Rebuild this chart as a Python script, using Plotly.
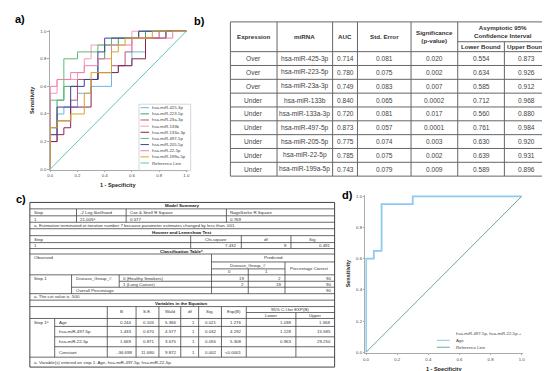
import plotly.graph_objects as go

W, H = 550, 371


def X(px):
    return px / W


def Y(py):
    return 1 - py / H


# ---------------- Panel a data (ROC curves) ----------------
mirna_a = ["hsa-miR-425-3p", "hsa-miR-223-5p", "hsa-miR-23a-3p", "hsa-miR-133b",
           "hsa-miR-133a-3p", "hsa-miR-497-5p", "hsa-miR-205-5p", "hsa-miR-22-5p",
           "hsa-miR-199a-5p"]
colors_a = ["#6cb4e4", "#3fa65f", "#c4507c", "#f39bb7", "#862450", "#5dbb77",
            "#3a3f9e", "#f07fa6", "#d4a52a"]
ref_color_a = "#5ec6bd"

fpr_425 = [0, 0, 0.05, 0.05, 0.1, 0.1, 0.2, 0.2, 0.3, 0.3, 0.45, 0.45, 0.5, 0.5, 0.6, 0.6, 0.7, 0.7, 0.85, 0.85, 1]
tpr_425 = [0, 0.25, 0.25, 0.4, 0.4, 0.45, 0.45, 0.55, 0.55, 0.6, 0.6, 0.7, 0.7, 0.75, 0.75, 0.85, 0.85, 0.95, 0.95, 1, 1]
fpr_223 = [0, 0, 0.05, 0.05, 0.1, 0.1, 0.2, 0.2, 0.35, 0.35, 0.4, 0.4, 0.5, 0.5, 0.7, 0.7, 1]
tpr_223 = [0, 0.3, 0.3, 0.5, 0.5, 0.6, 0.6, 0.65, 0.65, 0.8, 0.8, 0.9, 0.9, 0.95, 0.95, 1, 1]
fpr_23a = [0, 0, 0.05, 0.05, 0.15, 0.15, 0.2, 0.2, 0.35, 0.35, 0.45, 0.45, 0.55, 0.55, 0.6, 0.6, 0.8, 0.8, 1]
tpr_23a = [0, 0.2, 0.2, 0.35, 0.35, 0.5, 0.5, 0.65, 0.65, 0.7, 0.7, 0.75, 0.75, 0.85, 0.85, 0.95, 0.95, 1, 1]
fpr_133b = [0, 0, 0.05, 0.05, 0.2, 0.2, 0.25, 0.25, 0.3, 0.3, 0.45, 0.45, 0.6, 0.6, 1]
tpr_133b = [0, 0.55, 0.55, 0.65, 0.65, 0.7, 0.7, 0.8, 0.8, 0.9, 0.9, 0.95, 0.95, 1, 1]
fpr_133a = [0, 0, 0.05, 0.05, 0.1, 0.1, 0.15, 0.15, 0.3, 0.3, 0.35, 0.35, 0.5, 0.5, 0.6, 0.6, 0.7, 0.7, 0.85, 0.85, 1]
tpr_133a = [0, 0.2, 0.2, 0.25, 0.25, 0.3, 0.3, 0.45, 0.45, 0.65, 0.65, 0.7, 0.7, 0.75, 0.75, 0.8, 0.8, 0.95, 0.95, 1, 1]
fpr_497 = [0, 0, 0.1, 0.1, 0.2, 0.2, 0.35, 0.35, 0.45, 0.45, 0.65, 0.65, 1]
tpr_497 = [0, 0.5, 0.5, 0.8, 0.8, 0.85, 0.85, 0.9, 0.9, 0.95, 0.95, 1, 1]
fpr_205 = [0, 0, 0.05, 0.05, 0.15, 0.15, 0.25, 0.25, 0.35, 0.35, 0.4, 0.4, 0.65, 0.65, 1]
tpr_205 = [0, 0.25, 0.25, 0.45, 0.45, 0.6, 0.6, 0.65, 0.65, 0.85, 0.85, 0.95, 0.95, 1, 1]
fpr_22 = [0, 0, 0.05, 0.05, 0.15, 0.15, 0.25, 0.25, 0.35, 0.35, 0.45, 0.45, 0.6, 0.6, 0.9, 0.9, 1]
tpr_22 = [0, 0.6, 0.6, 0.65, 0.65, 0.7, 0.7, 0.75, 0.75, 0.8, 0.8, 0.9, 0.9, 0.95, 0.95, 1, 1]
fpr_199a = [0, 0, 0.05, 0.05, 0.15, 0.15, 0.25, 0.25, 0.3, 0.3, 0.45, 0.45, 0.5, 0.5, 0.55, 0.55, 0.75, 0.75, 1]
tpr_199a = [0, 0.3, 0.3, 0.35, 0.35, 0.4, 0.4, 0.55, 0.55, 0.7, 0.7, 0.85, 0.85, 0.9, 0.9, 0.95, 0.95, 1, 1]

curves_fpr = [fpr_425, fpr_223, fpr_23a, fpr_133b, fpr_133a, fpr_497, fpr_205, fpr_22, fpr_199a]
curves_tpr = [tpr_425, tpr_223, tpr_23a, tpr_133b, tpr_133a, tpr_497, tpr_205, tpr_22, tpr_199a]

ref_line = [0, 1]
tick_vals = [0, 0.2, 0.4, 0.6, 0.8, 1.0]
tick_text = ["0.0", "0.2", "0.4", "0.6", "0.8", "1.0"]

# ---------------- Panel b data (table) ----------------
b_expression = ["Over", "Over", "Over", "Under", "Under", "Under", "Under", "Under", "Under"]
b_mirna = ["hsa-miR-425-3p", "hsa-miR-223-5p", "hsa-miR-23a-3p", "hsa-miR-133b",
           "hsa-miR-133a-3p", "hsa-miR-497-5p", "hsa-miR-205-5p", "hsa-miR-22-5p",
           "hsa-miR-199a-5p"]
b_auc = ["0.714", "0.780", "0.749", "0.840", "0.720", "0.873", "0.775", "0.785", "0.743"]
b_se = ["0.081", "0.075", "0.083", "0.065", "0.081", "0.057", "0.074", "0.075", "0.079"]
b_sig = ["0.020", "0.002", "0.007", "0.0002", "0.017", "0.0001", "0.003", "0.002", "0.009"]
b_lower = ["0.554", "0.634", "0.585", "0.712", "0.560", "0.761", "0.630", "0.639", "0.589"]
b_upper = ["0.873", "0.926", "0.912", "0.968", "0.880", "0.984", "0.920", "0.931", "0.896"]

# ---------------- Panel c data (logistic regression output) ----------------
ms_header = ["Step", "-2 Log likelihood", "Cox & Snell R Square", "Nagelkerke R Square"]
ms_values = ["1", "21.005ᵃ", "0.577", "0.769"]
hl_header = ["Step", "Chi-square", "df", "Sig."]
hl_values = ["1", "7.432", "8", "0.491"]
cls_counts_0 = ["19", "2"]
cls_counts_1 = ["2", "18"]
cls_pct = ["90", "90", "90"]
var_names = ["Age", "hsa-miR-497-5p", "hsa-miR-22-5p", "Constant"]
var_B = ["0.244", "1.433", "1.669", "-36.698"]
var_SE = ["0.105", "0.670", "0.871", "11.680"]
var_Wald = ["5.366", "4.577", "3.675", "9.872"]
var_df = ["1", "1", "1", "1"]
var_Sig = ["0.021", "0.032", "0.055", "0.002"]
var_ExpB = ["1.276", "4.192", "5.308", "<0.0001"]
var_Lower = ["1.038", "1.128", "0.963", ""]
var_Upper = ["1.568", "15.585", "29.250", ""]

# ---------------- Panel d data ----------------
fpr_d = [0, 0, 0.05, 0.05, 0.1, 0.1, 0.3, 0.3, 1]
tpr_d = [0, 0.6, 0.6, 0.65, 0.65, 0.95, 0.95, 1, 1]

FONT = "Liberation Sans, Arial, sans-serif"
TXT = "#333333"

fig = go.Figure()

# Panel a traces
for name, c, fx, ty in zip(mirna_a, colors_a, curves_fpr, curves_tpr):
    fig.add_trace(go.Scatter(x=fx, y=ty, mode="lines", name=name,
                             line=dict(color=c, width=1), xaxis="x", yaxis="y",
                             showlegend=False, hoverinfo="skip"))
fig.add_trace(go.Scatter(x=ref_line, y=ref_line, mode="lines", name="Reference Line",
                         line=dict(color=ref_color_a, width=1), xaxis="x", yaxis="y",
                         showlegend=False, hoverinfo="skip"))

# Panel d traces
fig.add_trace(go.Scatter(x=fpr_d, y=tpr_d, mode="lines",
                         name="hsa-miR-497-5p, hsa-miR-22-5p + Age",
                         line=dict(color="#8ec9ee", width=1.8), xaxis="x2", yaxis="y2",
                         showlegend=False, hoverinfo="skip"))
fig.add_trace(go.Scatter(x=ref_line, y=ref_line, mode="lines", name="Reference Line",
                         line=dict(color="#6aa99a", width=1), xaxis="x2", yaxis="y2",
                         showlegend=False, hoverinfo="skip"))

shapes = []
ann = []


def hline(x0, x1, y, color="#555555", w=0.8):
    shapes.append(dict(type="line", xref="paper", yref="paper", x0=X(x0), x1=X(x1),
                       y0=Y(y), y1=Y(y), line=dict(color=color, width=w)))


def vline(x, y0, y1, color="#555555", w=0.8):
    shapes.append(dict(type="line", xref="paper", yref="paper", x0=X(x), x1=X(x),
                       y0=Y(y0), y1=Y(y1), line=dict(color=color, width=w)))


def text(t, x, y, size=7, anchor="center", bold=False, color=TXT, angle=0):
    if bold:
        t = "<b>" + t + "</b>"
    ann.append(dict(text=t, xref="paper", yref="paper", x=X(x), y=Y(y), xanchor=anchor,
                    yanchor="middle", showarrow=False, textangle=angle,
                    font=dict(family=FONT, size=size, color=color)))


# Panel labels
text("a)", 10, 10, size=11, bold=True, color="#000")
text("b)", 191, 12, size=11, bold=True, color="#000")
text("c)", 11, 192, size=11, bold=True, color="#000")
text("d)", 340, 188, size=11, bold=True, color="#000")

# Axis titles
text("Sensitivity", 22, 92, size=5.5, bold=True, color="#222", angle=-90)
text("1 - Specificity", 109, 177, size=5.5, bold=True, color="#222")
text("Sensitivity", 340, 267, size=5.5, bold=True, color="#222", angle=-90)
text("1 - Specificity", 437, 363, size=5.5, bold=True, color="#222")

# Panel a legend (manual)
shapes.append(dict(type="rect", xref="paper", yref="paper", x0=X(130), x1=X(182),
                   y0=Y(163), y1=Y(96), line=dict(color="#bbbbbb", width=0.6)))
leg_names = mirna_a + ["Reference Line"]
leg_colors = colors_a + [ref_color_a]
for i, (nm, c) in enumerate(zip(leg_names, leg_colors)):
    yy = 99.5 + i * 6.2
    hline(131.5, 140, yy, color=c, w=1)
    text(nm, 141.5, yy, size=4.3, anchor="left", color="#444")

# Panel d legend (manual)
text("hsa-miR-497-5p, hsa-miR-22-5p +", 447, 327, size=4.3, anchor="left", color="#444")
hline(430, 443, 334, color="#8ec9ee", w=1)
text("Age", 447, 334, size=4.3, anchor="left", color="#444")
hline(430, 443, 341, color="#6aa99a", w=1)
text("Reference Line", 447, 341, size=4.3, anchor="left", color="#444")

# ---------------- Table b ----------------
bx = [222, 269, 325, 350, 404, 451, 498, 543]
b_top, b_mid, b_head = 13, 33, 43
b_bot = 168.5
nrow = len(b_mirna)
rh = (b_bot - b_head) / nrow
BC = "#666666"
hline(bx[0], bx[-1], b_top, color=BC, w=1)
hline(bx[5], bx[-1], b_mid, color=BC, w=1)
for i in range(nrow + 1):
    hline(bx[0], bx[-1], b_head + i * rh, color=BC, w=1)
for j, xx in enumerate(bx):
    if j == 6:
        vline(xx, b_mid, b_bot, color=BC, w=1)
    else:
        vline(xx, b_top, b_bot, color=BC, w=1)

cen = [(bx[k] + bx[k + 1]) / 2 for k in range(7)]
hy = (b_top + b_head) / 2
HS = 6.2
text("Expression", cen[0], hy, size=HS, bold=True)
text("miRNA", cen[1], hy, size=HS, bold=True)
text("AUC", cen[2], hy, size=HS, bold=True)
text("Std. Error", cen[3], hy, size=HS, bold=True)
text("Significance<br>(p-value)", cen[4], hy, size=HS, bold=True)
text("Asymptotic 95%<br>Confidence Interval", (bx[5] + bx[7]) / 2, (b_top + b_mid) / 2, size=HS, bold=True)
text("Lower Bound", cen[5], (b_mid + b_head) / 2, size=HS, bold=True)
text("Upper Bound", cen[6], (b_mid + b_head) / 2, size=HS, bold=True)
cols_b = [b_expression, b_mirna, b_auc, b_se, b_sig, b_lower, b_upper]
for i in range(nrow):
    yy = b_head + (i + 0.5) * rh
    for k, col in enumerate(cols_b):
        text(col[i], cen[k], yy, size=6.6, color="#444")

# ---------------- Table c ----------------
CL, CR = 20, 327
CC = "#444444"
fs = 4.4

def H_(y, x0=CL, x1=CR, w=0.8):
    hline(x0, x1, y, color=CC, w=w)

def V_(x, y0, y1, w=0.8):
    vline(x, y0, y1, color=CC, w=w)

# outer verticals
V_(CL, 195, 361, w=1)
V_(CR, 195, 361, w=1)
for yy in [195, 201.5, 208.5, 215, 221.5, 228.5, 235.5, 241.5, 247, 268, 287, 293.5, 300, 312, 351, 361]:
    H_(yy, w=1 if yy in (195, 361) else 0.8)

# Model summary
text("Model Summary", 173, 198.2, size=fs, bold=True, color="#111")
for xx in [67, 117, 218]:
    V_(xx, 201.5, 215)
ms_x = [22, 69, 119, 220]
for k in range(4):
    text(ms_header[k], ms_x[k], 205, size=fs, anchor="left")
    text(ms_values[k], ms_x[k], 211.8, size=fs, anchor="left")
text("a. Estimation terminated at iteration number 7 because parameter estimates changed by less than .001.",
     22, 218.3, size=fs, anchor="left")

# Hosmer and Lemeshow
text("Hosmer and Lemeshow Test", 173, 225, size=fs, bold=True, color="#111")
for xx in [182, 233, 283]:
    V_(xx, 228.5, 241.5)
text(hl_header[0], 22, 232, size=fs, anchor="left")
text(hl_header[1], 207.5, 232, size=fs)
text(hl_header[2], 258, 232, size=fs)
text(hl_header[3], 305, 232, size=fs)
text(hl_values[0], 22, 238.5, size=fs, anchor="left")
text(hl_values[1], 231, 238.5, size=fs, anchor="right")
text(hl_values[2], 281, 238.5, size=fs, anchor="right")
text(hl_values[3], 325, 238.5, size=fs, anchor="right")

# Classification table
text("Classification Tableᵃ", 173, 244.3, size=fs, bold=True, color="#111")
V_(203, 247, 287)
H_(255, 203, CR)
H_(262, 203, 277)
V_(277, 255, 287)
V_(240, 262, 287)
V_(62, 268, 287)
V_(110, 268, 280.5)
H_(274.5, 110, CR)
H_(280.5, 62, CR)
text("Observed", 22, 251, size=fs, anchor="left")
text("Predicted", 265, 251, size=fs)
text("Disease_Group_#", 240, 258.5, size=fs)
text("Percentage Correct", 302, 261.5, size=fs)
text("0", 221.5, 265, size=fs)
text("1", 258.5, 265, size=fs)
text("Step 1", 22, 271.3, size=fs, anchor="left")
text("Disease_Group_#", 64, 271.3, size=fs, anchor="left")
text("0 (Healthy Smokers)", 112, 271.3, size=fs, anchor="left")
text("1 (Lung Cancer)", 112, 277.5, size=fs, anchor="left")
text("Overall Percentage", 64, 283.8, size=fs, anchor="left")
text(cls_counts_0[0], 238, 271.3, size=fs, anchor="right")
text(cls_counts_0[1], 275, 271.3, size=fs, anchor="right")
text(cls_counts_1[0], 238, 277.5, size=fs, anchor="right")
text(cls_counts_1[1], 275, 277.5, size=fs, anchor="right")
for yy, v in zip([271.3, 277.5, 283.8], cls_pct):
    text(v, 325, yy, size=fs, anchor="right")
text("a. The cut value is .500", 22, 290.3, size=fs, anchor="left")

# Variables in the Equation
text("Variables in the Equation", 173, 296.8, size=fs, bold=True, color="#111")
vx = [98, 127, 150, 172, 190, 213, 238]
for xx in vx:
    V_(xx, 300, 351)
V_(45, 312, 351)
V_(288, 306, 351)
H_(306, 238, CR)
for yy in [320, 330.5, 340.5]:
    H_(yy, 45, CR)
vcols = [98, 127, 150, 172, 190, 213, 238, 288, 327]
hdr = ["B", "S.E.", "Wald", "df", "Sig.", "Exp(B)"]
for k, h in enumerate(hdr):
    text(h, (vcols[k] + vcols[k + 1]) / 2, 304.5, size=fs)
text("95% C.I.for EXP(B)", 282.5, 303, size=fs)
text("Lower", 263, 309, size=fs)
text("Upper", 307.5, 309, size=fs)
row_y = [316, 325.3, 335.5, 345.8]
text("Step 1ᵃ", 22, row_y[0], size=fs, anchor="left")
vdata = [var_B, var_SE, var_Wald, var_df, var_Sig, var_ExpB, var_Lower, var_Upper]
for i, yy in enumerate(row_y):
    text(var_names[i], 47, yy, size=fs, anchor="left")
    for k, col in enumerate(vdata):
        text(col[i], vcols[k + 1] - 2, yy, size=fs, anchor="right")
text("a. Variable(s) entered on step 1: Age, hsa-miR-497-5p, hsa-miR-22-5p.", 22, 356, size=fs, anchor="left")

axis_common = dict(range=[-0.004, 1.01], tickvals=tick_vals, ticktext=tick_text,
                   showgrid=False, zeroline=False, showline=True, linecolor="#aaaaaa",
                   linewidth=1, ticks="outside", ticklen=1.5, tickcolor="#aaaaaa",
                   tickfont=dict(family=FONT, size=4.3, color="#444"))

fig.update_layout(
    width=W, height=H, margin=dict(l=0, r=0, t=0, b=0),
    paper_bgcolor="white", plot_bgcolor="white",
    xaxis=dict(domain=[X(40), X(179)], anchor="y", **axis_common),
    yaxis=dict(domain=[Y(162), Y(21)], anchor="x", **axis_common),
    xaxis2=dict(domain=[X(358), X(517)], anchor="y2", **axis_common),
    yaxis2=dict(domain=[Y(346.7), Y(187.3)], anchor="x2", **axis_common),
    shapes=shapes, annotations=ann, showlegend=False,
)

fig.write_html("out.html")
